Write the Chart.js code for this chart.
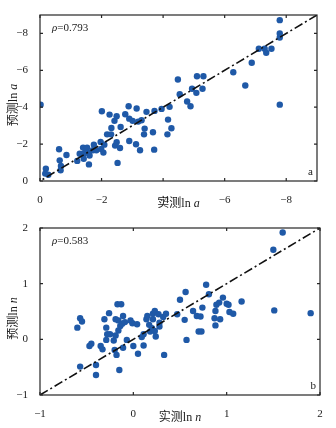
<!DOCTYPE html>
<html>
<head>
<meta charset="utf-8">
<script src="https://cdn.jsdelivr.net/npm/chart.js@4.4.1/dist/chart.umd.min.js"></script>
<style>
  body { margin: 0; background: #fff; }
  canvas { display: block; }
</style>
</head>
<body>
<canvas id="chartA" width="336" height="214"></canvas>
<canvas id="chartB" width="336" height="214"></canvas>
<script>
// panel a: ln a
var aMeasured = [-0.02, -0.19, -0.17, -0.27, -0.62, -0.64, -0.68, -0.67, -0.86, -1.21,
  -1.29, -1.40, -1.42, -1.53, -1.56, -1.59, -1.61, -1.45, -1.72, -1.75,
  -1.83, -1.97, -1.99, -2.06, -2.09, -2.01, -2.18, -2.26, -2.32, -2.31,
  -2.42, -2.44, -2.49, -2.49, -2.52, -2.60, -2.62, -2.77, -2.88, -2.90,
  -2.90, -3.01, -3.12, -3.14, -3.19, -3.25, -3.30, -3.38, -3.40, -3.46,
  -3.67, -3.71, -3.72, -3.95, -4.14, -4.16, -4.21, -4.27, -4.48, -4.54,
  -4.78, -4.89, -4.94, -5.08, -5.10, -5.28, -5.31, -6.28, -6.67, -6.88,
  -7.11, -7.30, -7.35, -7.52, -7.79, -7.79, -7.79, -7.79];
var aPredicted = [-4.14, -0.67, -0.40, -0.34, -1.72, -1.12, -0.81, -0.58, -1.41, -1.09,
  -1.48, -1.81, -1.21, -1.81, -1.56, -0.90, -1.38, -1.52, -1.67, -1.97,
  -1.67, -2.12, -1.74, -1.54, -1.97, -3.78, -2.53, -3.60, -2.88, -2.53,
  -3.26, -1.92, -3.51, -2.10, -0.98, -1.79, -2.93, -3.62, -4.05, -3.38,
  -2.17, -3.26, -1.99, -3.93, -3.22, -1.67, -3.29, -2.53, -2.84, -3.75,
  -2.64, -1.70, -3.80, -3.91, -2.53, -3.33, -4.02, -2.86, -5.50, -4.71,
  -4.31, -4.05, -5.00, -4.78, -5.68, -5.00, -5.68, -5.90, -5.18, -6.41,
  -7.17, -7.17, -6.95, -7.17, -8.72, -8.00, -7.78, -4.14];
var aTicks = [0, -2, -4, -6, -8];
var aRange = [-9, 0];

// panel b: ln n
var nMeasured = [-0.60, -0.57, -0.55, -0.57, -0.47, -0.45, -0.40, -0.40, -0.35, -0.33,
  -0.31, -0.29, -0.29, -0.28, -0.26, -0.25, -0.21, -0.20, -0.19, -0.19,
  -0.18, -0.17, -0.16, -0.16, -0.15, -0.14, -0.13, -0.12, -0.11, -0.11,
  -0.09, -0.07, -0.03, -0.01, 0.00, 0.04, 0.05, 0.09, 0.11, 0.11,
  0.14, 0.15, 0.17, 0.18, 0.20, 0.21, 0.21, 0.23, 0.23, 0.24,
  0.27, 0.28, 0.28, 0.32, 0.33, 0.35, 0.47, 0.50, 0.55, 0.56,
  0.57, 0.64, 0.68, 0.70, 0.72, 0.73, 0.74, 0.78, 0.81, 0.87,
  0.88, 0.88, 0.89, 0.92, 0.93, 0.96, 1.00, 1.02, 1.03, 1.07,
  1.16, 1.50, 1.51, 1.60, 1.90];
var nPredicted = [0.21, 0.38, 0.32, -0.49, -0.12, -0.08, -0.46, -0.64, -0.12, -0.18,
  0.36, 0.21, -0.01, 0.09, 0.47, 0.09, -0.02, -0.19, 0.07, 0.36,
  -0.28, 0.63, 0.34, 0.16, -0.55, 0.24, 0.63, 0.28, 0.42, -0.15,
  0.31, -0.01, 0.34, 0.29, -0.12, 0.27, -0.26, 0.04, -0.11, 0.09,
  0.36, 0.42, 0.26, 0.14, 0.20, 0.36, 0.46, 0.51, 0.15, 0.05,
  0.45, 0.23, 0.30, 0.40, -0.28, 0.46, 0.45, 0.71, 0.35, 0.85,
  -0.01, 0.51, 0.42, 0.14, 0.41, 0.14, 0.57, 0.98, 0.81, 0.38,
  0.51, 0.25, 0.62, 0.66, 0.36, 0.75, 0.64, 0.62, 0.49, 0.46,
  0.68, 1.61, 0.52, 1.92, 0.47];
var nTicks = [-1, 0, 1, 2];
var nRange = [-1, 2];

var SERIF = '"Liberation Serif", "DejaVu Serif", serif';
var CJK = '"Noto Sans CJK SC", sans-serif';
var DOT = '#1f59a7';

function zip(xs, ys) {
  return xs.map(function (x, i) { return { x: x, y: ys[i] }; });
}

function minusLabel(v) {
  return String(v).replace('-', '\u2212');
}

// draw a run of text pieces with different fonts, centred on x
function richText(ctx, parts, x, y) {
  var total = 0;
  parts.forEach(function (p) { ctx.font = p[1]; total += ctx.measureText(p[0]).width; });
  var cx = x - total / 2;
  parts.forEach(function (p) {
    ctx.font = p[1];
    ctx.fillText(p[0], cx, y);
    cx += ctx.measureText(p[0]).width;
  });
}

var framePlugin = {
  id: 'frame',
  afterDraw: function (chart) {
    var o = chart.options.plugins.frame;
    var ctx = chart.ctx;
    var a = chart.chartArea;
    var xs = chart.scales.x, ys = chart.scales.y;
    ctx.save();
    ctx.strokeStyle = '#262626';
    ctx.lineWidth = 1.2;
    ctx.strokeRect(a.left, a.top, a.right - a.left, a.bottom - a.top);
    ctx.beginPath();
    o.ticks.forEach(function (v) {
      var p = xs.getPixelForValue(v);
      ctx.moveTo(p, a.bottom); ctx.lineTo(p, a.bottom - 3);
      ctx.moveTo(p, a.top); ctx.lineTo(p, a.top + 3);
      var q = ys.getPixelForValue(v);
      ctx.moveTo(a.left, q); ctx.lineTo(a.left + 3, q);
      ctx.moveTo(a.right, q); ctx.lineTo(a.right - 3, q);
    });
    ctx.stroke();

    ctx.fillStyle = '#1a1a1a';
    ctx.textBaseline = 'alphabetic';
    ctx.textAlign = 'left';
    var mid = (a.left + a.right) / 2;
    richText(ctx, [['实测', '12px ' + CJK], ['ln ', '12px ' + SERIF], [o.sym, 'italic 12px ' + SERIF]],
      mid, chart.height - 7);

    ctx.save();
    ctx.translate(17, (a.top + a.bottom) / 2 + 7);
    ctx.rotate(-Math.PI / 2);
    richText(ctx, [['预测', '12px ' + CJK], ['ln ', '12px ' + SERIF], [o.sym, 'italic 12px ' + SERIF]], 0, 0);
    ctx.restore();

    ctx.font = 'italic 11px ' + SERIF;
    ctx.fillText('\u03c1', a.left + 12, a.top + 16);
    var w = ctx.measureText('\u03c1').width;
    ctx.font = '11px ' + SERIF;
    ctx.fillText('=' + o.rho, a.left + 12 + w, a.top + 16);

    ctx.textAlign = 'right';
    ctx.fillText(o.letter, a.right - 4, a.bottom - 6);
    ctx.restore();
  }
};

function makeChart(id, xs, ys, ticks, range, reversed, rho, letter, sym, padRight, padTop) {
  var tickFont = { family: SERIF, size: 11 };
  return new Chart(document.getElementById(id), {
    type: 'scatter',
    data: {
      datasets: [
        {
          type: 'line',
          data: [{ x: range[0], y: range[0] }, { x: range[1], y: range[1] }],
          borderColor: '#111',
          borderWidth: 1.6,
          borderDash: [9, 3, 2, 3],
          pointRadius: 0,
          fill: false,
        },
        {
          data: zip(xs, ys),
          backgroundColor: DOT,
          borderWidth: 0,
          pointRadius: 3.2,
        },
      ],
    },
    options: {
      responsive: false,
      animation: false,
      layout: { padding: { left: 0, right: padRight, top: padTop, bottom: 0 } },
      plugins: {
        legend: { display: false },
        tooltip: { enabled: false },
        frame: { rho: rho, letter: letter, sym: sym, ticks: ticks },
      },
      scales: {
        x: {
          type: 'linear',
          min: range[0],
          max: range[1],
          reverse: reversed,
          afterBuildTicks: function (s) { s.ticks = ticks.map(function (v) { return { value: v }; }); },
          afterFit: function (s) { s.height = 33; },
          grid: { display: false },
          border: { display: false },
          ticks: { font: tickFont, color: '#1a1a1a', padding: 5, maxRotation: 0, callback: minusLabel },
        },
        y: {
          type: 'linear',
          min: range[0],
          max: range[1],
          reverse: reversed,
          afterBuildTicks: function (s) { s.ticks = ticks.map(function (v) { return { value: v }; }); },
          afterFit: function (s) { s.width = 40; },
          grid: { display: false },
          border: { display: false },
          ticks: { font: tickFont, color: '#1a1a1a', padding: 4, callback: minusLabel },
        },
      },
    },
    plugins: [framePlugin],
  });
}

makeChart('chartA', aMeasured, aPredicted, aTicks, aRange, true, '0.793', 'a', 'a', 19, 15);
makeChart('chartB', nMeasured, nPredicted, nTicks, nRange, false, '0.583', 'b', 'n', 16, 14);
</script>
</body>
</html>
